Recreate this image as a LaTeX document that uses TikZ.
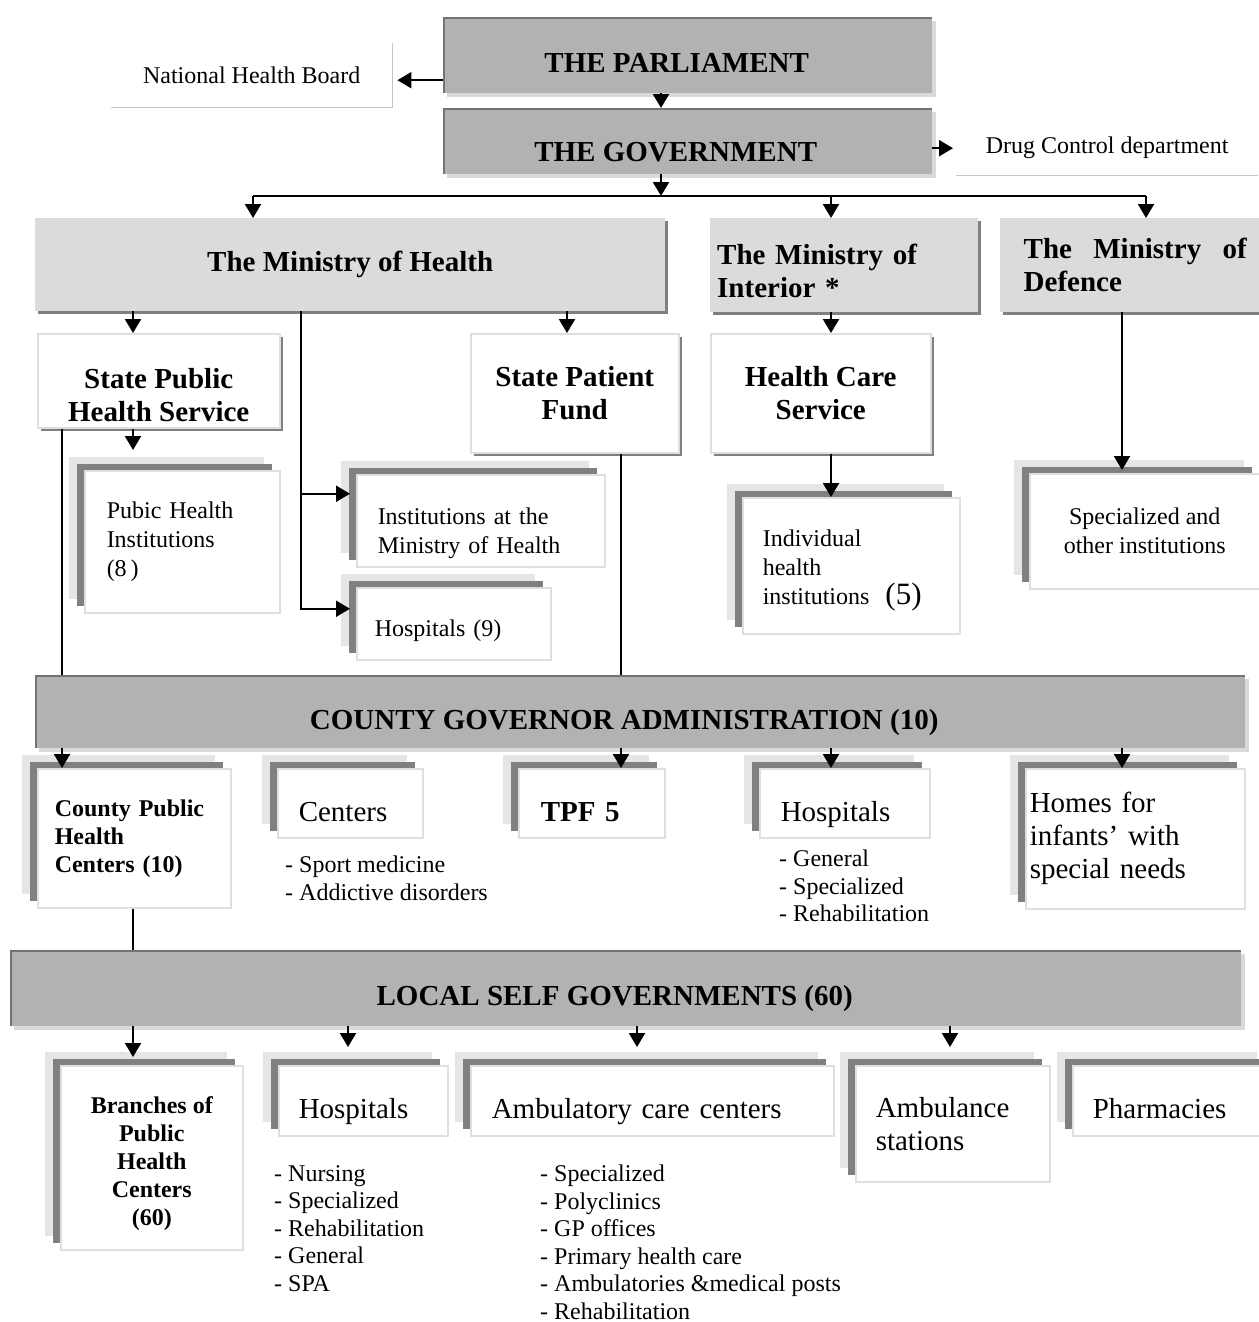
\documentclass[tikz,border=0pt]{standalone}
\usepackage{fontspec}
\setmainfont{Liberation Serif}
\usetikzlibrary{arrows.meta,shadows}

\begin{document}
\begin{tikzpicture}[x=1pt, y=-1pt,
  every node/.style={anchor=north west, inner sep=0pt},
  arr/.style={line width=2.2pt, -{Triangle[width=16pt,length=14pt]}},
  link/.style={line width=2.2pt},
  rim/.style={gray!45, line width=1.5pt},
  lowtext/.style={text height=42pt, text depth=6pt},
  topbox/.style={fill=gray!60, align=center, font=\hdf, text height=35pt, text depth=0pt,
    general shadow={shadow xshift=4pt, shadow yshift=-4pt, fill=gray!30},
    path picture={\draw[line width=3pt, black!55]
      (path picture bounding box.south west) |- (path picture bounding box.north east);}},
  minbox/.style={fill=gray!28, font=\hdf,
    general shadow={shadow xshift=3pt, shadow yshift=-3pt, fill=gray}},
  headbox/.style={fill=white, draw=gray!25, line width=1.5pt, align=center, font=\hdf,
    general shadow={shadow xshift=3pt, shadow yshift=-3pt, fill=gray}},
  stackbox/.style={fill=white, draw=gray!25, line width=1.5pt,
    general shadow={shadow xshift=-16pt, shadow yshift=14pt, fill=gray!20},
    general shadow={shadow xshift=-8pt, shadow yshift=7pt, fill=gray}}]

  \newcommand\hdf{\fontsize{29}{33}\selectfont\bfseries}
  \newcommand\hsf{\fontsize{24}{28}\selectfont\bfseries}
  \newcommand\txf{\fontsize{29}{33}\selectfont}
  \newcommand\smf{\fontsize{24}{29}\selectfont}
  \newcommand\lsf{\fontsize{24}{27.5}\selectfont}

  \useasboundingbox[fill=white] (0,0) rectangle (1258,1322);

  % columns of the connectors
  \coordinate (gvx) at (661,0);
  \coordinate (busw) at (253,196);
  \coordinate (buse) at (1146,196);
  \coordinate (moix) at (831,0);
  \coordinate (phsx) at (133,0);
  \coordinate (spfx) at (567,0);
  \coordinate (mohx) at (301,0);
  \coordinate (cgaw) at (62,0);
  \coordinate (cgax) at (621,0);
  \coordinate (modx) at (1122,0);
  \coordinate (lsgb) at (348,0);
  \coordinate (lsgc) at (637,0);
  \coordinate (lsgd) at (950,0);

  % state level
  \node[topbox, minimum width=489pt, minimum height=76pt] (parl) at (443,17) {THE PARLIAMENT\hspace*{22pt}};
  \node[topbox, text height=41pt, minimum width=489pt, minimum height=66pt] (gov) at (443,108) {THE GOVERNMENT\hspace*{24pt}};
  \node[font=\smf, minimum width=281pt, minimum height=64pt] (nhb) at (111,43) {National Health Board};
  \node[font=\smf, minimum width=302pt, minimum height=54pt] (dcd) at (956,121) {Drug Control department};
  \draw[rim] (nhb.north east) |- (nhb.south west);
  \draw[rim] (dcd.south west) -- (dcd.south east);

  % ministries
  \node[minbox, align=center, minimum width=630pt, minimum height=93pt] (moh) at (35,218) {The Ministry of Health};
  \node[minbox, align=left, text width=254pt, inner xsep=7pt, minimum height=94pt] (moi) at (710,218) {\rule{0pt}{32pt}The Ministry of\\Interior *};
  \node[minbox, align=left, minimum width=270pt, minimum height=94pt] (mod) at (1000,218) {\makebox[223pt][s]{The Ministry of}\\Defence};

  \node[headbox, minimum width=242pt, minimum height=94pt] (sphs) at (37,333) {\rule{0pt}{48pt}State Public\\Health Service};
  \node[headbox, minimum width=208pt, minimum height=119pt] (spf) at (470,333) {State Patient\\Fund};
  \node[headbox, minimum width=220pt, minimum height=119pt] (hcs) at (710,333) {Health Care\\Service};

  \node[stackbox, font=\smf, align=left, text width=151pt, inner xsep=22pt, minimum height=142pt] (phi) at (84,470) {Pubic Health\\Institutions\\(8\,)};
  \node[stackbox, font=\smf, align=left, text width=206pt, inner xsep=21pt, minimum height=92pt] (imh) at (356,474) {\rule{0pt}{42pt}Institutions at the\\Ministry of Health};
  \node[stackbox, font=\smf, align=left, text width=158pt, inner xsep=18pt, text height=30pt, minimum height=72pt] (hos9) at (356,587) {Hospitals (9)};
  \node[stackbox, font=\smf, align=left, text width=177pt, inner xsep=20pt, minimum height=136pt] (ihi) at (742,497) {\rule{0pt}{26pt}Individual\\health\\institutions\hspace{16pt}{\fontsize{31}{33}\selectfont(5)}};
  \node[stackbox, font=\smf, align=center, minimum width=230pt, minimum height=115pt] (spo) at (1029,473) {Specialized and\\other institutions};

  % county level
  \node[topbox, minimum width=1210pt, minimum height=73pt] (cga) at (35,675) {COUNTY GOVERNOR ADMINISTRATION (10)\hspace*{32pt}};
  \node[stackbox, font=\hsf, align=left, text width=159pt, inner xsep=17pt, minimum height=139pt] (cphc) at (37,768) {County Public\\Health\\Centers (10)};
  \node[stackbox, lowtext, font=\txf, align=left, text width=103pt, inner xsep=21pt, minimum height=69pt] (cen) at (277,768) {Centers};
  \node[stackbox, lowtext, font=\hdf, align=left, text width=102pt, inner xsep=22pt, minimum height=69pt] (tpf) at (518,768) {TPF 5};
  \node[stackbox, lowtext, font=\txf, align=left, text width=128pt, inner xsep=21pt, minimum height=69pt] (hosc) at (759,768) {Hospitals};
  \node[stackbox, font=\txf, align=left, text width=211pt, inner xsep=4pt, minimum height=140pt] (homes) at (1025,768) {Homes for\\infants’ with\\special needs};
  \node[font=\lsf, align=left] (cenl) at (285,856) {- Sport medicine\\- Addictive disorders};
  \node[font=\lsf, align=left] (hoscl) at (779,850) {- General\\- Specialized\\- Rehabilitation};

  % local level
  \node[topbox, minimum width=1231pt, minimum height=76pt] (lsg) at (10,950) {LOCAL SELF GOVERNMENTS (60)\hspace*{22pt}};
  \node[stackbox, font=\hsf, align=center, minimum width=182pt, minimum height=184pt] (bph) at (60,1065) {\rule{0pt}{28pt}Branches of\\Public\\Health\\Centers\\(60)};
  \node[stackbox, lowtext, font=\txf, align=left, text width=129pt, inner xsep=20pt, minimum height=70pt] (hosl) at (278,1065) {Hospitals};
  \node[stackbox, lowtext, font=\txf, align=left, text width=321pt, inner xsep=21pt, minimum height=70pt] (acc) at (470,1065) {Ambulatory care centers};
  \node[stackbox, font=\txf, align=left, text width=154pt, inner xsep=20pt, minimum height=116pt] (amb) at (855,1065) {Ambulance\\stations};
  \node[stackbox, lowtext, font=\txf, align=left, text width=160pt, inner xsep=20pt, minimum height=70pt] (pha) at (1072,1065) {Pharmacies};
  \node[font=\lsf, align=left] (hosll) at (274,1165) {- Nursing\\- Specialized\\- Rehabilitation\\- General\\- SPA};
  \node[font=\lsf, align=left] (accl) at (540,1165) {- Specialized\\- Polyclinics\\- GP offices\\- Primary health care\\- Ambulatories \&medical posts\\- Rehabilitation};

  % connectors
  \draw[arr] (parl.south -| gvx) -- (gov.north -| gvx);
  \draw[arr, shorten >=5pt] (parl.west |- nhb.east) ++(0,5) -- ([yshift=-5pt]nhb.east);
  \draw[arr, shorten >=3pt] (gov.east |- dcd.west) -- (dcd.west);
  \draw[arr] (gov.south -| gvx) -- (busw -| gvx);
  \draw[link] (busw) -- (buse);
  \draw[arr] (busw) -- (busw |- moh.north);
  \draw[arr] (busw -| moix) -- (moix |- moi.north);
  \draw[arr] (buse) -- (buse |- mod.north);

  \draw[arr] (moh.south -| phsx) -- (phsx |- sphs.north);
  \draw[arr] (moh.south -| spfx) -- (spfx |- spf.north);
  \draw[arr, shorten >=6pt] (moh.south -| mohx) |- ([yshift=27pt]imh.west);
  \draw[arr, shorten >=6pt] (moh.south -| mohx) |- ([yshift=15pt]hos9.west);
  \draw[arr, shorten >=20pt] (sphs.south -| phsx) -- (phsx |- phi.north);
  \draw[link] (sphs.south -| cgaw) -- (cgaw |- cga.north);
  \draw[link] (spf.south -| cgax) -- (cgax |- cga.north);
  \draw[arr] (moi.south -| moix) -- (moix |- hcs.north);
  \draw[arr] (hcs.south -| moix) -- (moix |- ihi.north);
  \draw[arr, shorten >=3pt] (mod.south -| modx) -- (modx |- spo.north);

  \draw[arr] (cga.south -| cgaw) -- (cgaw |- cphc.north);
  \draw[arr] (cga.south -| cgax) -- (cgax |- tpf.north);
  \draw[arr] (cga.south -| moix) -- (moix |- hosc.north);
  \draw[arr] (cga.south -| modx) -- (modx |- homes.north);
  \draw[link] (cphc.south -| phsx) -- (phsx |- lsg.north);

  \draw[arr, shorten >=8pt] (lsg.south -| phsx) -- (phsx |- bph.north);
  \draw[arr, shorten >=18pt] (lsg.south -| lsgb) -- (lsgb |- hosl.north);
  \draw[arr, shorten >=18pt] (lsg.south -| lsgc) -- (lsgc |- acc.north);
  \draw[arr, shorten >=18pt] (lsg.south -| lsgd) -- (lsgd |- amb.north);

\end{tikzpicture}
\end{document}
